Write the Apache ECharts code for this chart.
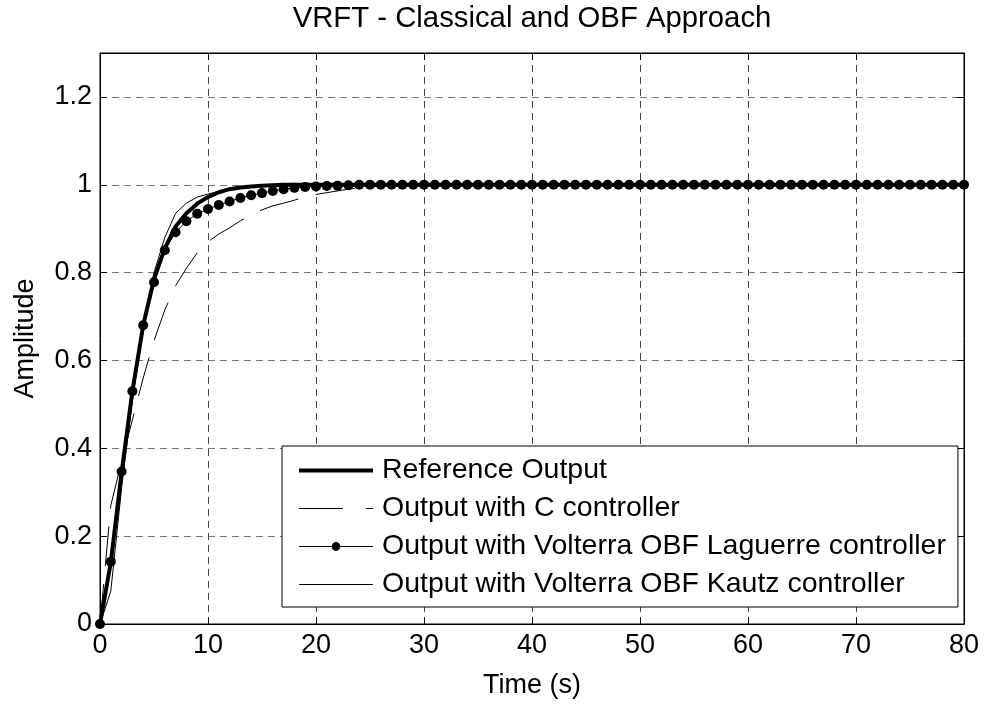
<!DOCTYPE html>
<html>
<head>
<meta charset="utf-8">
<script src="https://cdn.jsdelivr.net/npm/echarts@6/dist/echarts.min.js"></script>
<style>html,body{margin:0;padding:0;background:#fff}#c{width:986px;height:704px}</style>
</head>
<body>
<div id="c"></div>
<script>
var time = [0,1,2,3,4,5,6,7,8,9,10,11,12,13,14,15,16,17,18,19,20,21,22,23,24,25,26,27,28,29,30,31,32,33,34,35,36,37,38,39,40,41,42,43,44,45,46,47,48,49,50,51,52,53,54,55,56,57,58,59,60,61,62,63,64,65,66,67,68,69,70,71,72,73,74,75,76,77,78,79,80];
var refOut = [0,0.14,0.345,0.53,0.68,0.785,0.855,0.905,0.935,0.957,0.972,0.983,0.99,0.994,0.996,0.998,0.999,1,1,1,1,1,1,1,1,1,1,1,1,1,1,1,1,1,1,1,1,1,1,1,1,1,1,1,1,1,1,1,1,1,1,1,1,1,1,1,1,1,1,1,1,1,1,1,1,1,1,1,1,1,1,1,1,1,1,1,1,1,1,1,1];
var cCtrl = [0,0.27,0.37,0.465,0.56,0.645,0.715,0.77,0.81,0.845,0.87,0.888,0.902,0.918,0.932,0.943,0.952,0.958,0.965,0.972,0.978,0.982,0.986,0.99,0.993,0.995,0.997,0.998,0.999,1,1,1,1,1,1,1,1,1,1,1,1,1,1,1,1,1,1,1,1,1,1,1,1,1,1,1,1,1,1,1,1,1,1,1,1,1,1,1,1,1,1,1,1,1,1,1,1,1,1,1,1];
var laguerre = [0,0.142,0.347,0.53,0.68,0.778,0.851,0.892,0.917,0.934,0.945,0.954,0.962,0.97,0.976,0.981,0.986,0.99,0.993,0.995,0.996,0.997,0.998,0.999,1,1,1,1,1,1,1,1,1,1,1,1,1,1,1,1,1,1,1,1,1,1,1,1,1,1,1,1,1,1,1,1,1,1,1,1,1,1,1,1,1,1,1,1,1,1,1,1,1,1,1,1,1,1,1,1,1];
var kautz = [0,0.075,0.31,0.51,0.67,0.8,0.88,0.935,0.958,0.972,0.979,0.985,0.99,0.994,0.996,0.998,0.999,1,1,1,1,1,1,1,1,1,1,1,1,1,1,1,1,1,1,1,1,1,1,1,1,1,1,1,1,1,1,1,1,1,1,1,1,1,1,1,1,1,1,1,1,1,1,1,1,1,1,1,1,1,1,1,1,1,1,1,1,1,1,1,1];
var seriesNames = ['Reference Output','Output with C controller','Output with Volterra OBF Laguerre controller','Output with Volterra OBF Kautz controller'];
var titleText = 'VRFT - Classical and OBF Approach';
var xName = 'Time (s)';
var yName = 'Amplitude';

function pairs(v){ return time.map(function(t,i){ return [t, v[i]]; }); }
var FONT = 'Liberation Sans, Arial, Helvetica, sans-serif';
var chart = echarts.init(document.getElementById('c'), null, {renderer:'canvas'});
var tickCommon = {show:true, inside:true, length:7, lineStyle:{color:'#000', width:1}};
chart.setOption({
  animation:false,
  backgroundColor:'#fff',
  title:{text:titleText, left:532, top:4, textAlign:'center', padding:0,
    textStyle:{fontFamily:FONT, fontSize:29.3, fontWeight:'normal', color:'#000'}},
  grid:{left:100, right:22, top:53, bottom:78, show:true, borderColor:'#000', borderWidth:1, containLabel:false},
  legend:{
    data:[
      {name:seriesNames[0], itemStyle:{opacity:0}, lineStyle:{width:4, color:'#000', type:'solid'}},
      {name:seriesNames[1], itemStyle:{opacity:0}, lineStyle:{width:1, color:'#000', type:[44,23]}},
      {name:seriesNames[2], itemStyle:{color:'#000', opacity:1}, lineStyle:{width:1, color:'#000', type:'solid'}},
      {name:seriesNames[3], itemStyle:{opacity:0}, lineStyle:{width:1, color:'#000', type:'solid'}}
    ],
    orient:'vertical', left:282, top:446,
    padding:[10,12,8,15], itemGap:9, itemWidth:74, itemHeight:11,
    backgroundColor:'#fff', borderColor:'#000', borderWidth:1, borderRadius:0,
    textStyle:{fontFamily:FONT, fontSize:28.5, color:'#000', padding:[0,0,0,4]},
    selectedMode:false
  },
  xAxis:[{
    type:'value', min:0, max:80, interval:10,
    name:xName, nameLocation:'middle', nameGap:48,
    nameTextStyle:{fontFamily:FONT, fontSize:27, color:'#000'},
    axisLine:{show:true, onZero:false, lineStyle:{color:'#000', width:1}},
    axisTick:tickCommon,
    axisLabel:{fontFamily:FONT, fontSize:27, color:'#000', margin:8},
    splitLine:{show:true, lineStyle:{color:'#444', type:[7,5], width:1}}
  },{
    type:'value', min:0, max:80, interval:10, position:'top',
    axisLine:{show:true, onZero:false, lineStyle:{color:'#000'}},
    axisTick:tickCommon, axisLabel:{show:false}, splitLine:{show:false}
  }],
  yAxis:[{
    type:'value', min:0, max:1.3, interval:0.2,
    name:yName, nameLocation:'middle', nameGap:61,
    nameTextStyle:{fontFamily:FONT, fontSize:27, color:'#000'},
    axisLine:{show:true, onZero:false, lineStyle:{color:'#000', width:1}},
    axisTick:tickCommon,
    axisLabel:{fontFamily:FONT, fontSize:27, color:'#000', margin:8, showMaxLabel:false,
      formatter:function(v){ return Math.abs(v-1.3)<1e-6 ? '' : String(Math.round(v*10)/10); }},
    splitLine:{show:true, lineStyle:{color:'#777', type:[7,5], width:1}}
  },{
    type:'value', min:0, max:1.3, interval:0.2, position:'right',
    axisLine:{show:true, onZero:false, lineStyle:{color:'#000'}},
    axisTick:tickCommon, axisLabel:{show:false}, splitLine:{show:false}
  }],
  series:[
    {name:seriesNames[0], type:'line', data:pairs(refOut), symbol:'none', smooth:false,
      lineStyle:{color:'#000', width:4}, itemStyle:{color:'#000'}, z:2},
    {name:seriesNames[1], type:'line', data:pairs(cCtrl), symbol:'none',
      lineStyle:{color:'#000', width:1, type:[40,18]}, itemStyle:{color:'#000'}, z:3},
    {name:seriesNames[2], type:'line', data:pairs(laguerre), symbol:'circle', symbolSize:10, showSymbol:true,
      lineStyle:{color:'#000', width:1}, itemStyle:{color:'#000', borderWidth:0}, z:4},
    {name:seriesNames[3], type:'line', data:pairs(kautz), symbol:'none',
      lineStyle:{color:'#000', width:1}, itemStyle:{color:'#000'}, z:5}
  ]
});
</script>
</body>
</html>
